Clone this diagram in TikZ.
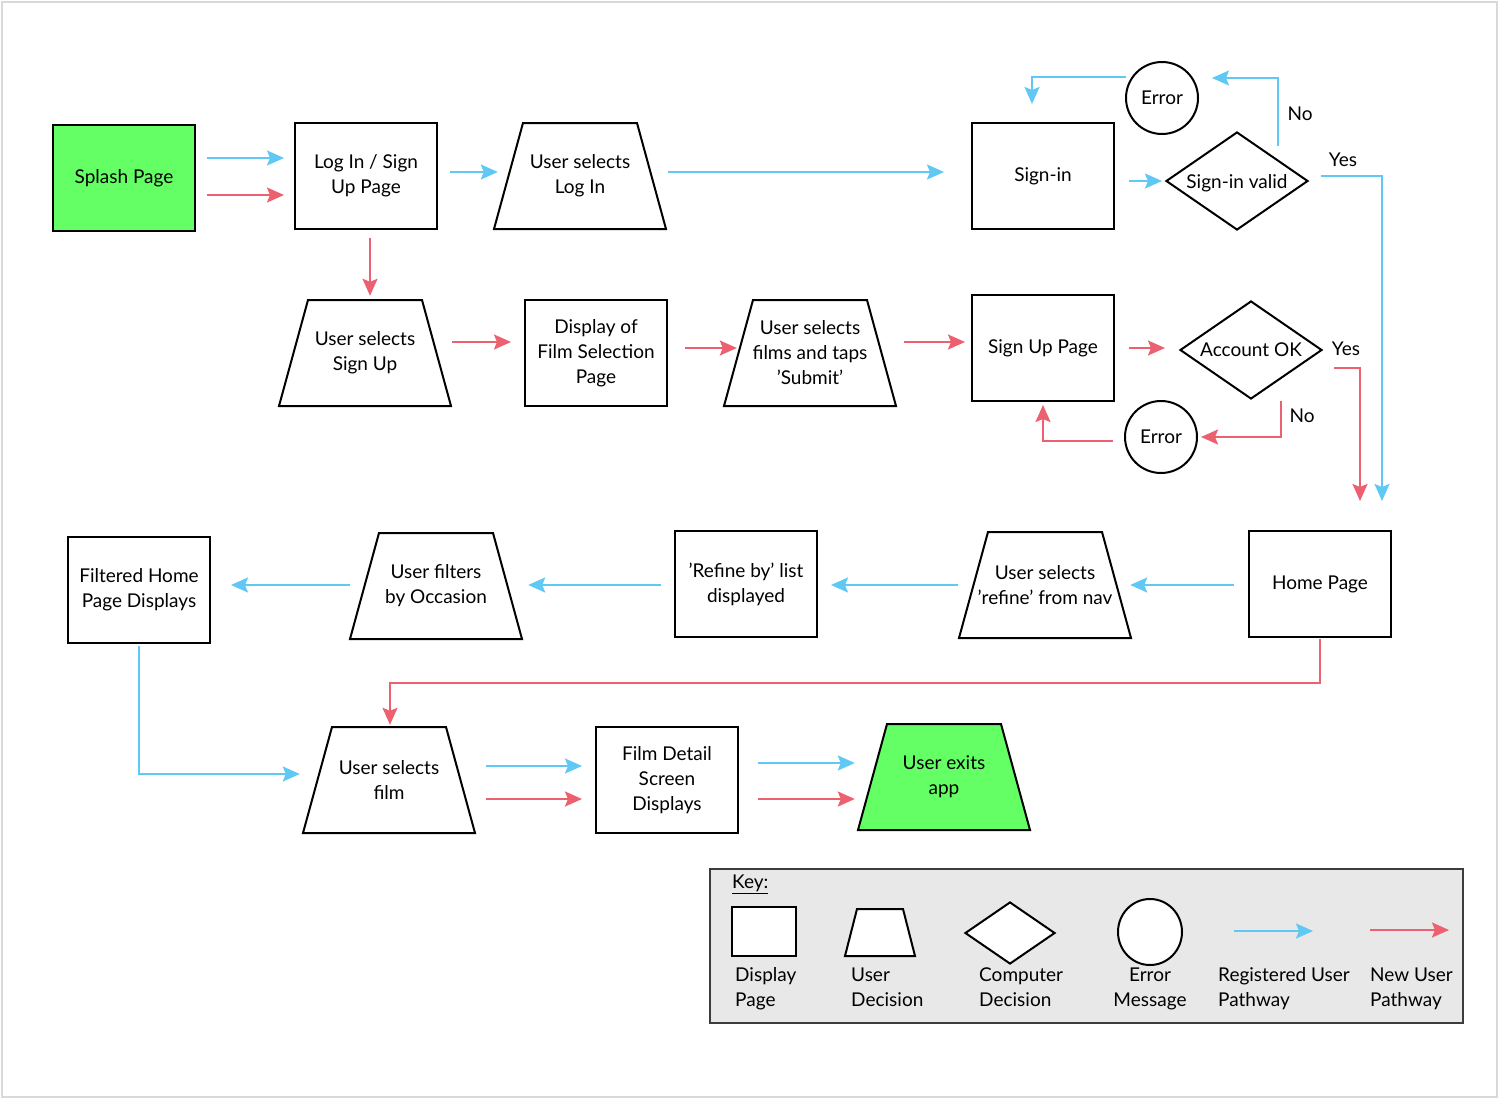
\documentclass[tikz,border=0pt]{standalone}
\usepackage{fontspec}
\setmainfont{Lato}
\usetikzlibrary{arrows.meta,shapes.geometric,calc}
\definecolor{blu}{RGB}{95,200,245}
\definecolor{rd}{RGB}{236,96,112}
\definecolor{grn}{RGB}{100,255,100}
\definecolor{keybg}{RGB}{232,232,232}
\newcommand\txtfont{\fontsize{19}{25}\selectfont}
\newcommand\trapshape[5]{%
  \draw[shp,#1] (#3,#4) ++(-57,-53) -- ++(114,0) -- ++(29,106) -- ++(-172,0) -- cycle;
  \node[trapbox] (#2) at (#3,#4) {#5};}
\begin{document}
\begin{tikzpicture}[x=1pt,y=-1pt,
  shp/.style={draw=black, line width=2pt, line join=miter},
  box/.style={shp, rectangle, minimum width=142pt, minimum height=106pt, inner sep=2pt, align=center, font=\txtfont},
  trapbox/.style={rectangle, minimum width=143pt, minimum height=106pt, inner sep=0pt, align=center, font=\txtfont},
  dia/.style={shp, diamond, minimum width=142pt, minimum height=98pt, inner sep=0pt},
  errc/.style={shp, circle, minimum size=72pt, inner sep=0pt, font=\txtfont},
  txt/.style={inner sep=0pt, align=center, font=\txtfont},
  ktxt/.style={inner sep=0pt, align=left, font=\txtfont, anchor=west},
  conn/.style={line width=2.2pt, -{Stealth[length=17pt,width=15pt,inset=3pt]}},
  regp/.style={conn, draw=blu},
  newp/.style={conn, draw=rd}]
\useasboundingbox (0,0) rectangle (1500,1100);
\draw[gray!30, line width=1.2pt] (2,2) rectangle (1497,1097);

% row 1
\node[box, fill=grn] (splash) at (124,178) {Splash Page};
\node[box] (login) at (366,176) {Log In / Sign\\Up Page};
\trapshape{}{sellogin}{580}{176}{User selects\\Log In}
\node[box] (signin) at (1043,176) {Sign-in};
\node[dia] (valid) at (1237,181) {};
\node[txt] (validt) at ([yshift=-2pt]valid.center) {Sign-in valid};
\node[errc] (err1) at (1162,98) {Error};

% row 2
\trapshape{}{selsignup}{365}{353}{User selects\\Sign Up}
\node[box] (filmsel) at (596,353) {Display of\\Film Selection\\Page};
\trapshape{}{selfilms}{810}{353}{User selects\\films and taps\\'Submit'}
\node[box] (signup) at (1043,348) {Sign Up Page};
\node[dia] (accok) at (1251,350) {};
\node[txt] (accokt) at (accok.center) {Account OK};
\node[errc] (err2) at (1161,437) {Error};

% row 3
\node[box] (home) at (1320,584) {Home Page};
\trapshape{}{selrefine}{1045}{585}{User selects\\'refine' from nav}
\node[box] (refine) at (746,584) {'Refine by' list\\displayed};
\trapshape{}{filters}{436}{586}{User filters\\by Occasion};
\node[box] (filtered) at (139,590) {Filtered Home\\Page Displays};

% row 4
\trapshape{}{selfilm}{389}{780}{User selects\\film}
\node[box] (detail) at (667,780) {Film Detail\\Screen\\Displays};
\trapshape{fill=grn}{exitapp}{944}{777}{User exits\\app}

% labels
\node[txt] (no1) at (1300,114) {No};
\node[txt] (yes1) at (1343,160) {Yes};
\node[txt] (yes2) at (1346,349) {Yes};
\node[txt] (no2) at (1302,416) {No};

% registered user pathway
\draw[regp] ([shift={(11,-20)}]splash.east) -- ([shift={(-10,-18)}]login.west);
\draw[regp] ([shift={(12,-4)}]login.east) -- ([shift={(-10.5,-4)}]sellogin.west);
\draw[regp] ([shift={(16.5,-4)}]sellogin.east) -- ([shift={(-27,-4)}]signin.west);
\draw[regp] ([shift={(14,5)}]signin.east) -- ([shift={(-3,0)}]valid.west);
\draw[regp] ([shift={(41,-35)}]valid.center) |- ([shift={(50,-20)}]err1.center);
\draw[regp] ([shift={(-36,-21)}]err1.center) -| ([shift={(-11,-18)}]signin.north);
\draw[regp] ([shift={(12,-5)}]valid.east) -| ([shift={(62,-29)}]home.north);
\draw[regp] ([shift={(-14,1)}]home.west) -- ([shift={(13.5,0)}]selrefine.east);
\draw[regp] ([shift={(-15.5,0)}]selrefine.west) -- ([shift={(13,1)}]refine.east);
\draw[regp] ([shift={(-13,1)}]refine.west) -- ([shift={(20.5,-1)}]filters.east);
\draw[regp] ([shift={(-14.5,-1)}]filters.west) -- ([shift={(20,-5)}]filtered.east);
\draw[regp] ([shift={(0,2)}]filtered.south) |- ([shift={(-17.5,-6)}]selfilm.west);
\draw[regp] ([shift={(25.5,-14)}]selfilm.east) -- ([shift={(-13,-14)}]detail.west);
\draw[regp] ([shift={(19,-17)}]detail.east) -- ([shift={(-17.5,-14)}]exitapp.west);

% new user pathway
\draw[newp] ([shift={(11,17)}]splash.east) -- ([shift={(-10,19)}]login.west);
\draw[newp] ([shift={(4,8)}]login.south) -- ([shift={(5,-4)}]selsignup.north);
\draw[newp] ([shift={(15.5,-11)}]selsignup.east) -- ([shift={(-13,-11)}]filmsel.west);
\draw[newp] ([shift={(17,-5)}]filmsel.east) -- ([shift={(-1.5,-5)}]selfilms.west);
\draw[newp] ([shift={(22.5,-11)}]selfilms.east) -- ([shift={(-6,-6)}]signup.west);
\draw[newp] ([shift={(14,0)}]signup.east) -- ([shift={(-14,-2)}]accok.west);
\draw[newp] ([shift={(30,51)}]accok.center) |- ([shift={(3,0)}]err2.east);
\draw[newp] ([shift={(-11,4)}]err2.west) -| ([shift={(0,3)}]signup.south);
\draw[newp] ([shift={(11,18)}]accok.east) -| ([shift={(40,-29)}]home.north);
\draw[newp] ([shift={(0,1)}]home.south) -- ++(0,44) -| ([shift={(1,-2)}]selfilm.north);
\draw[newp] ([shift={(25.5,19)}]selfilm.east) -- ([shift={(-13,19)}]detail.west);
\draw[newp] ([shift={(19,19)}]detail.east) -- ([shift={(-17.5,22)}]exitapp.west);

% key
\node[draw={rgb,255:red,60;green,60;blue,60}, line width=2pt, fill=keybg, minimum width=753pt, minimum height=154pt, inner sep=0pt] (keybox) at (1086.5,946) {};
\node[ktxt] (keyt) at (732,884) {\underline{Key:}};
\node[shp, rectangle, fill=white, minimum width=64pt, minimum height=49pt, inner sep=0pt] (kdisp) at (764,931.5) {};
\draw[shp, fill=white] (880,932.5) ++(-23,-23.5) -- ++(46,0) -- ++(12,47) -- ++(-70,0) -- cycle;
\node[inner sep=0pt, minimum width=58pt, minimum height=47pt] (kuser) at (880,932.5) {};
\node[dia, fill=white, minimum width=90pt, minimum height=62pt] (kcomp) at (1010,933) {};
\node[shp, ellipse, fill=white, minimum width=64pt, minimum height=66pt, inner sep=0pt] (kerr) at (1150,932) {};
\coordinate (kb1) at (1234,931);
\coordinate (kb2) at (1313,931);
\coordinate (kr1) at (1370,930);
\coordinate (kr2) at (1449,930);
\draw[regp] (kb1) -- (kb2);
\draw[newp] (kr1) -- (kr2);
\node[ktxt] (kl1) at (735,989) {Display\strut\\Page\strut};
\node[ktxt] (kl2) at (851,989) {User\strut\\Decision\strut};
\node[ktxt] (kl3) at (979,989) {Computer\strut\\Decision\strut};
\node[txt] (kl4) at (1150,989) {Error\strut\\Message\strut};
\node[ktxt] (kl5) at (1218,989) {Registered User\strut\\Pathway\strut};
\node[ktxt] (kl6) at (1370,989) {New User\strut\\Pathway\strut};
\end{tikzpicture}
\end{document}
